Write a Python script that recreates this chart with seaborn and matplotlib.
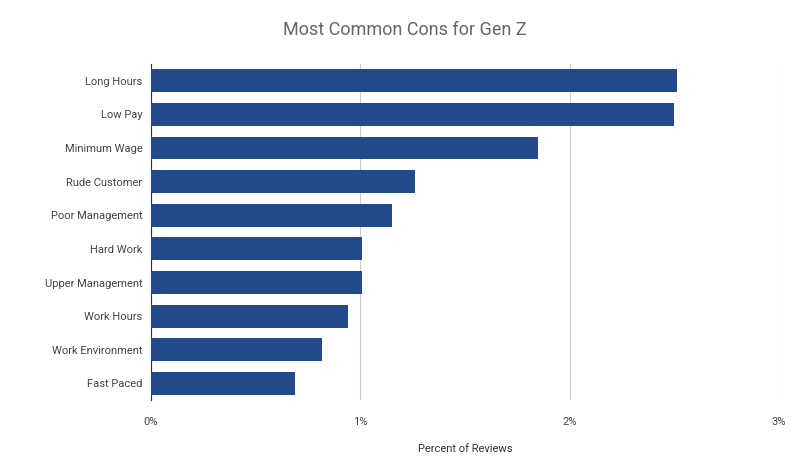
import matplotlib
matplotlib.use("Agg")
import matplotlib.pyplot as plt
import seaborn as sns
import pandas as pd
from matplotlib.ticker import FuncFormatter

categories = ["Long Hours", "Low Pay", "Minimum Wage", "Rude Customer", "Poor Management",
              "Hard Work", "Upper Management", "Work Hours", "Work Environment", "Fast Paced"]
values = [2.51, 2.50, 1.85, 1.26, 1.15, 1.01, 1.01, 0.94, 0.82, 0.69]
xticks = [0, 1, 2, 3]

df = pd.DataFrame({"cat": categories, "val": values})
plt.rcParams["font.family"] = "Roboto"
fig = plt.figure(figsize=(8.1, 4.67), dpi=100)
ax = fig.add_axes([0.186, 0.143, 0.776, 0.72])
sns.barplot(data=df, x="val", y="cat", color="#224a8a", saturation=1, width=0.68, ax=ax, zorder=3)
ax.set_xlim(0, 3)
ax.set_xticks(xticks)
ax.xaxis.set_major_formatter(FuncFormatter(lambda v, p: f"{int(v)}%"))
ax.grid(axis="x", color="#cccccc", linewidth=0.8, zorder=0)
for s in ax.spines.values():
    s.set_visible(False)
ax.spines["left"].set_visible(True)
ax.spines["left"].set_color("#333333")
ax.tick_params(length=0, labelsize=8, colors="#444444", pad=6)
ax.tick_params(axis="x", pad=12)
ax.set_ylabel("")
ax.set_xlabel("Percent of Reviews", fontsize=8, color="#333333", labelpad=12)
fig.suptitle("Most Common Cons for Gen Z", y=0.955, fontsize=13, color="#666666")
fig.savefig("out.png")
